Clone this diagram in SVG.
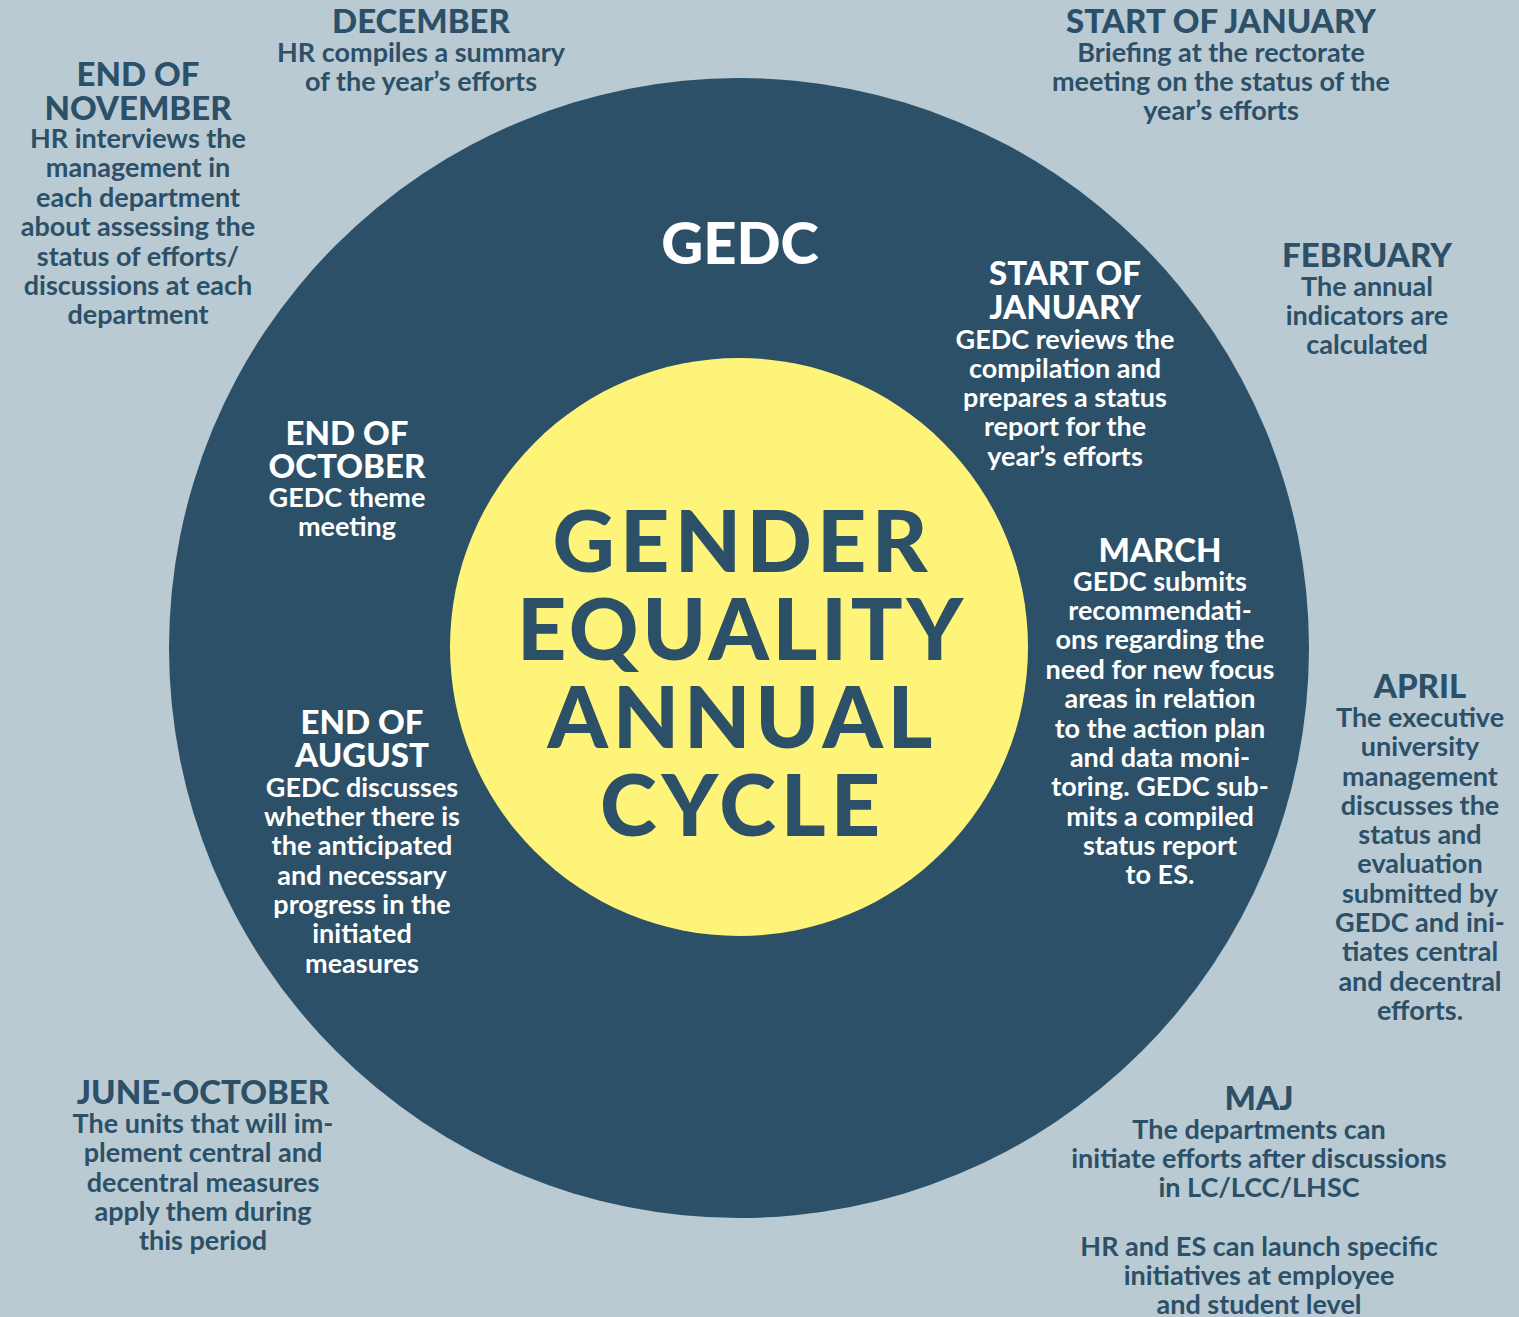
<svg xmlns="http://www.w3.org/2000/svg" width="1519" height="1317" viewBox="0 0 1519 1317">
<style>
text{font-family:Lato,"Noto Sans","Liberation Sans",sans-serif;text-anchor:middle;font-weight:700}
.h{font-size:33px;font-weight:900}
.b{font-size:27px}
.o{fill:#2c5068}
.w{fill:#ffffff}
.t{font-size:86px;font-weight:900;fill:#2c5068}
</style>
<rect width="1519" height="1317" fill="#b9cad3"/>
<g id="outer-ring"><circle cx="739" cy="648" r="570" fill="#2c5068"/></g>
<g id="center"><circle cx="739" cy="647" r="289" fill="#fff47a"/>
<text class="t" x="740" y="572" textLength="375">GENDER</text>
<text class="t" x="740" y="660" textLength="446">EQUALITY</text>
<text class="t" x="740" y="748" textLength="385">ANNUAL</text>
<text class="t" x="740" y="836" textLength="280">CYCLE</text>
</g>
<g id="connectors"></g>
<g id="gedc"><text class="w" x="740" y="264" style="font-size:58px;font-weight:900">GEDC</text></g>
<g id="december">
<text class="h o" x="421" y="33">DECEMBER</text>
<text class="b o" x="421" y="62">HR compiles a summary</text>
<text class="b o" x="421" y="91">of the year’s efforts</text>
</g>
<g id="end-of-november">
<text class="h o" x="138" y="86">END OF</text>
<text class="h o" x="138" y="120">NOVEMBER</text>
<text class="b o" x="138" y="148">HR interviews the</text>
<text class="b o" x="138" y="177">management in</text>
<text class="b o" x="138" y="207">each department</text>
<text class="b o" x="138" y="236">about assessing the</text>
<text class="b o" x="138" y="266">status of efforts/</text>
<text class="b o" x="138" y="295">discussions at each</text>
<text class="b o" x="138" y="324">department</text>
</g>
<g id="start-of-january-top">
<text class="h o" x="1221" y="33">START OF JANUARY</text>
<text class="b o" x="1221" y="62">Briefing at the rectorate</text>
<text class="b o" x="1221" y="91">meeting on the status of the</text>
<text class="b o" x="1221" y="120">year’s efforts</text>
</g>
<g id="february">
<text class="h o" x="1367" y="267">FEBRUARY</text>
<text class="b o" x="1367" y="296">The annual</text>
<text class="b o" x="1367" y="325">indicators are</text>
<text class="b o" x="1367" y="354">calculated</text>
</g>
<g id="start-of-january-inner">
<text class="h w" x="1065" y="285">START OF</text>
<text class="h w" x="1065" y="319">JANUARY</text>
<text class="b w" x="1065" y="349">GEDC reviews the</text>
<text class="b w" x="1065" y="378">compilation and</text>
<text class="b w" x="1065" y="407">prepares a status</text>
<text class="b w" x="1065" y="436">report for the</text>
<text class="b w" x="1065" y="466">year’s efforts</text>
</g>
<g id="march">
<text class="h w" x="1160" y="562">MARCH</text>
<text class="b w" x="1160" y="591">GEDC submits</text>
<text class="b w" x="1160" y="620">recommendati-</text>
<text class="b w" x="1160" y="649">ons regarding the</text>
<text class="b w" x="1160" y="679">need for new focus</text>
<text class="b w" x="1160" y="708">areas in relation</text>
<text class="b w" x="1160" y="738">to the action plan</text>
<text class="b w" x="1160" y="767">and data moni-</text>
<text class="b w" x="1160" y="796">toring. GEDC sub-</text>
<text class="b w" x="1160" y="826">mits a compiled</text>
<text class="b w" x="1160" y="855">status report</text>
<text class="b w" x="1160" y="884">to ES.</text>
</g>
<g id="april">
<text class="h o" x="1420" y="698">APRIL</text>
<text class="b o" x="1420" y="727">The executive</text>
<text class="b o" x="1420" y="756">university</text>
<text class="b o" x="1420" y="786">management</text>
<text class="b o" x="1420" y="815">discusses the</text>
<text class="b o" x="1420" y="844">status and</text>
<text class="b o" x="1420" y="873">evaluation</text>
<text class="b o" x="1420" y="903">submitted by</text>
<text class="b o" x="1420" y="932">GEDC and ini-</text>
<text class="b o" x="1420" y="961">tiates central</text>
<text class="b o" x="1420" y="991">and decentral</text>
<text class="b o" x="1420" y="1020">efforts.</text>
</g>
<g id="maj">
<text class="h o" x="1259" y="1110">MAJ</text>
<text class="b o" x="1259" y="1139">The departments can</text>
<text class="b o" x="1259" y="1168">initiate efforts after discussions</text>
<text class="b o" x="1259" y="1197">in LC/LCC/LHSC</text>
<text class="b o" x="1259" y="1256">HR and ES can launch specific</text>
<text class="b o" x="1259" y="1285">initiatives at employee</text>
<text class="b o" x="1259" y="1314">and student level</text>
</g>
<g id="june-october">
<text class="h o" x="203" y="1104">JUNE-OCTOBER</text>
<text class="b o" x="203" y="1133">The units that will im-</text>
<text class="b o" x="203" y="1162">plement central and</text>
<text class="b o" x="203" y="1192">decentral measures</text>
<text class="b o" x="203" y="1221">apply them during</text>
<text class="b o" x="203" y="1250">this period</text>
</g>
<g id="end-of-october">
<text class="h w" x="347" y="445">END OF</text>
<text class="h w" x="347" y="478">OCTOBER</text>
<text class="b w" x="347" y="507">GEDC theme</text>
<text class="b w" x="347" y="536">meeting</text>
</g>
<g id="end-of-august">
<text class="h w" x="362" y="734">END OF</text>
<text class="h w" x="362" y="767">AUGUST</text>
<text class="b w" x="362" y="797">GEDC discusses</text>
<text class="b w" x="362" y="826">whether there is</text>
<text class="b w" x="362" y="855">the anticipated</text>
<text class="b w" x="362" y="885">and necessary</text>
<text class="b w" x="362" y="914">progress in the</text>
<text class="b w" x="362" y="943">initiated</text>
<text class="b w" x="362" y="973">measures</text>
</g>
</svg>
